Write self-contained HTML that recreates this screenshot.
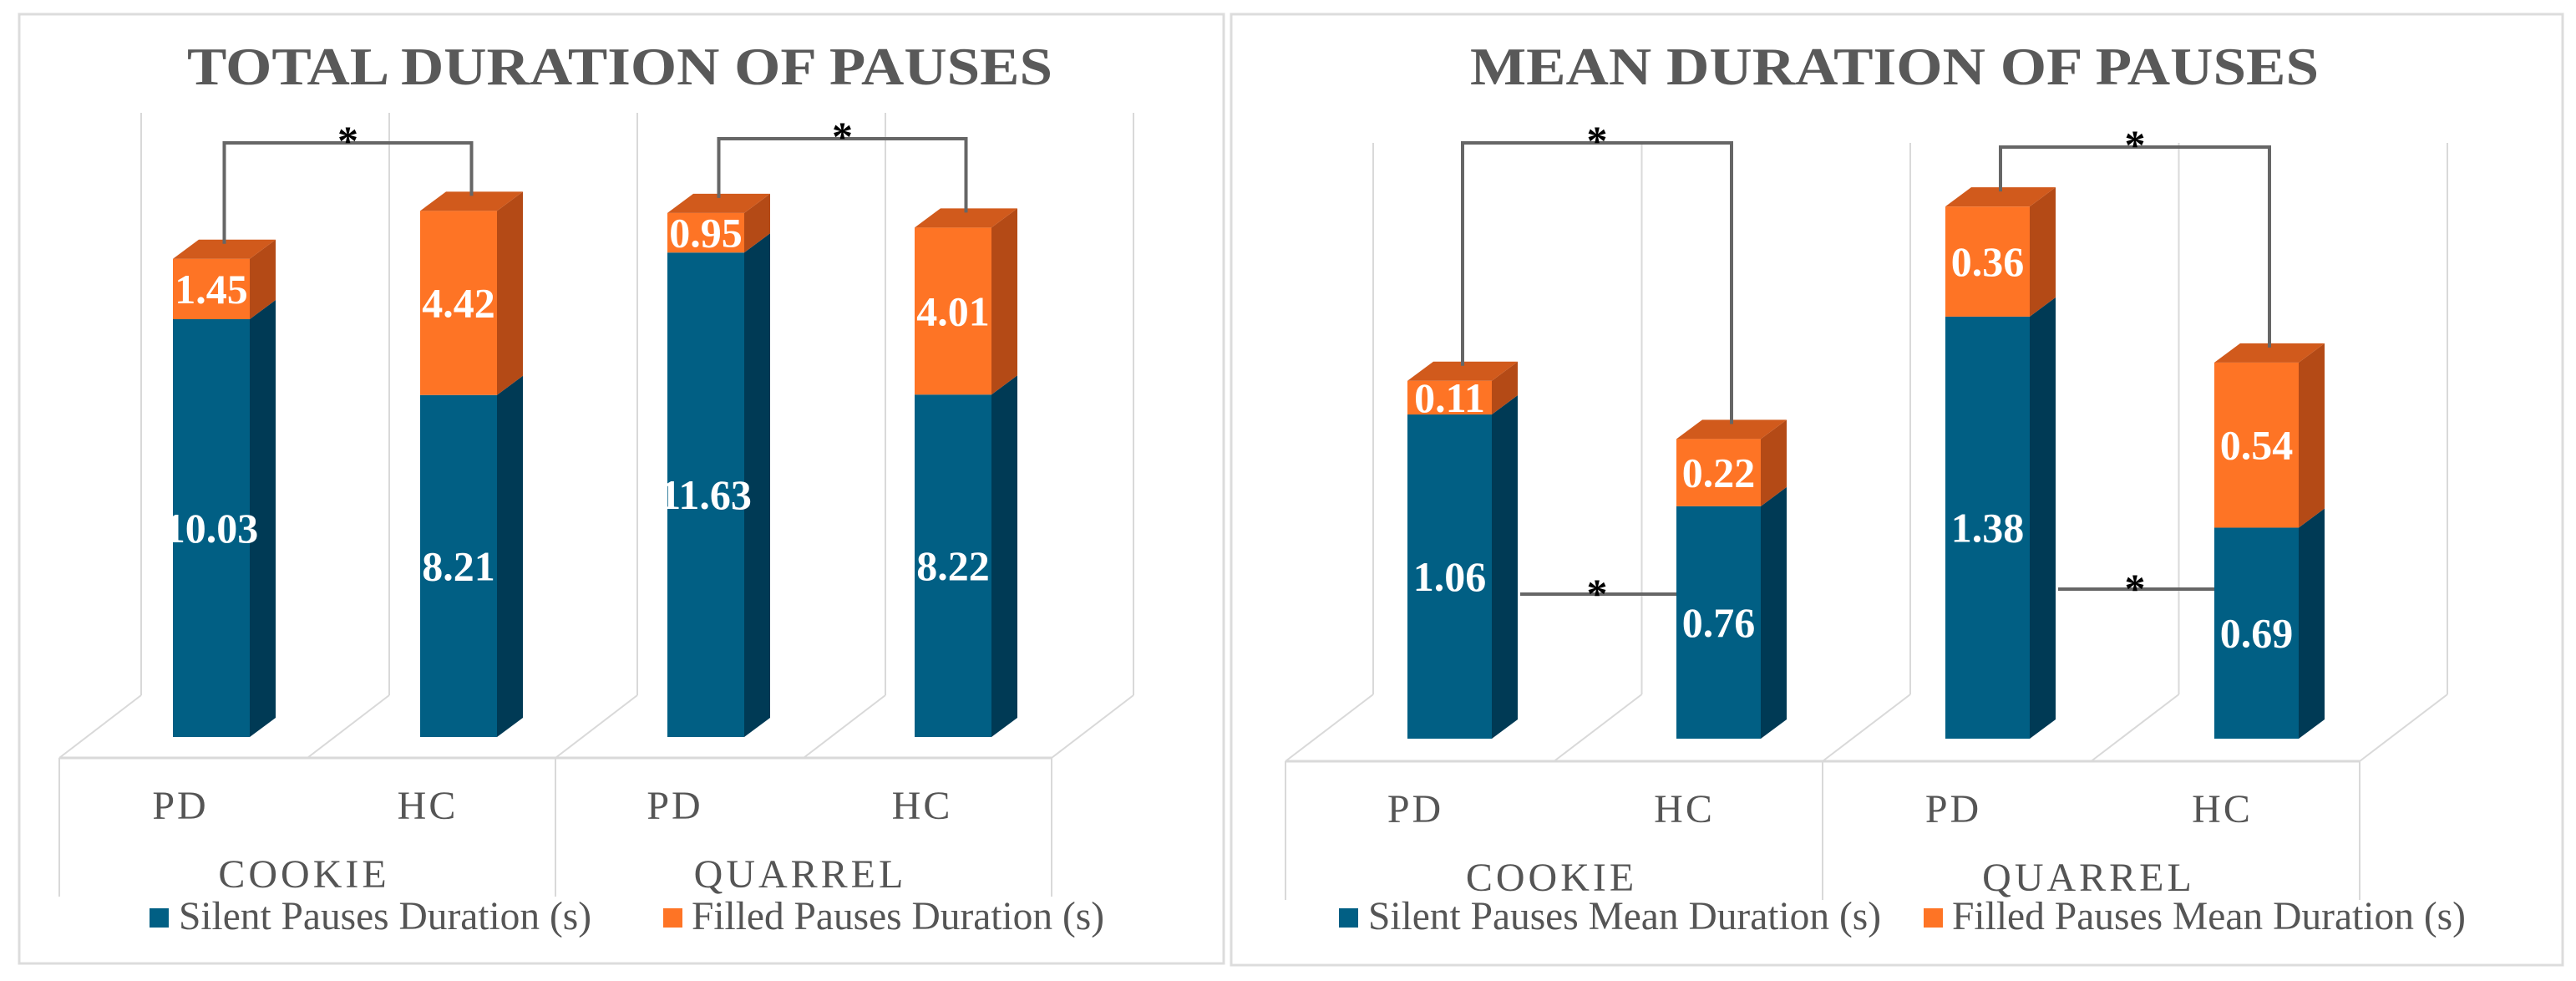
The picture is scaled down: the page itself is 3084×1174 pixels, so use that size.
<!DOCTYPE html>
<html><head><meta charset="utf-8"><style>
html,body{margin:0;padding:0;background:#fff;}
svg{display:block;}
svg text{font-family:"Liberation Serif","DejaVu Serif",serif !important;}
</style></head><body>
<svg id="svg" width="3084" height="1174" viewBox="0 0 3084 1174" xmlns="http://www.w3.org/2000/svg">
<rect x="0" y="0" width="3084" height="1174" fill="#fff"/>
<rect x="23" y="17" width="1442" height="1136" fill="none" stroke="#dcdcdc" stroke-width="3"/>
<rect x="1474" y="17" width="1594" height="1138" fill="none" stroke="#dcdcdc" stroke-width="3"/>
<text x="742" y="101" text-anchor="middle" style="font-family:'Liberation Serif',serif" font-size="64" font-weight="bold" fill="#595959" textLength="1036" lengthAdjust="spacingAndGlyphs">TOTAL DURATION OF PAUSES</text>
<text x="2268" y="101" text-anchor="middle" style="font-family:'Liberation Serif',serif" font-size="64" font-weight="bold" fill="#595959" textLength="1016" lengthAdjust="spacingAndGlyphs">MEAN DURATION OF PAUSES</text>
<g id="c1"></g>
<g id="c2"></g>
</svg>
<script>
const groups = ["PD","HC","PD","HC"];
const tasks = ["COOKIE","QUARREL"];
const totalSilent = [10.03, 8.21, 11.63, 8.22];
const totalFilled = [1.45, 4.42, 0.95, 4.01];
const meanSilent = [1.06, 0.76, 1.38, 0.69];
const meanFilled = [0.11, 0.22, 0.36, 0.54];

const NS = "http://www.w3.org/2000/svg";
function mk(parent, tag, attrs, txt){
  const e = document.createElementNS(NS, tag);
  for (const k in attrs) e.setAttribute(k, attrs[k]);
  if (tag === "text") e.setAttribute("style", "font-family:'Liberation Serif',serif");
  if (txt !== undefined) e.textContent = txt;
  parent.appendChild(e);
  return e;
}

function drawChart(g, cfg, silent, filled){
  const y = v => cfg.base - v * cfg.scale;
  const xb = i => cfg.x0 + i * cfg.step;
  for (let i = 0; i <= 4; i++){
    const bx = cfg.gx0 + i * cfg.gstep;
    const l = mk(g, "line", {x1:bx, y1:cfg.gTop, x2:bx, y2:cfg.gBot, stroke:"#d9d9d9", "stroke-width":2});
    
    
    const fx = bx - cfg.fdx;
    const d = mk(g, "line", {x1:bx, y1:cfg.gBot, x2:fx, y2:cfg.fy, stroke:"#d9d9d9", "stroke-width":2});
    
    
  }
  const fl = cfg.gx0 - cfg.fdx, fr = cfg.gx0 + 4*cfg.gstep - cfg.fdx;
  const fe = mk(g, "line", {x1:fl, y1:cfg.fy, x2:fr, y2:cfg.fy, stroke:"#d9d9d9", "stroke-width":3});
  
  
  [0, 2, 4].forEach(i => {
    const vx = cfg.gx0 + i*cfg.gstep - cfg.fdx;
    const v = mk(g, "line", {x1:vx, y1:cfg.fy, x2:vx, y2:cfg.fy+166, stroke:"#d9d9d9", "stroke-width":2});
    
    
  });
  const W = cfg.w, DX = 31, DY = 23;
  silent.forEach((s, i) => {
    const f = filled[i];
    const x = xb(i), ys = y(s), yt = y(s + f);
    const bg = mk(g, "g", {});
    
    
    mk(bg, "rect", {x:x, y:ys, width:W, height:cfg.base-ys, fill:"#015f84"});
    mk(bg, "polygon", {points:`${x+W},${ys} ${x+W+DX},${ys-DY} ${x+W+DX},${cfg.base-DY} ${x+W},${cfg.base}`, fill:"#003a55"});
    mk(bg, "rect", {x:x, y:yt, width:W, height:ys-yt, fill:"#fe7425"});
    mk(bg, "polygon", {points:`${x+W},${yt} ${x+W+DX},${yt-DY} ${x+W+DX},${ys-DY} ${x+W},${ys}`, fill:"#b44a16"});
    mk(bg, "polygon", {points:`${x},${yt} ${x+DX},${yt-DY} ${x+W+DX},${yt-DY} ${x+W},${yt}`, fill:"#d15a1c"});
    const t1 = mk(bg, "text", {x:x+W/2, y:(ys+cfg.base)/2+17, "text-anchor":"middle", "font-size":50, "font-weight":"bold", fill:"#fff"}, s.toFixed(2));
    
    
    const t2 = mk(bg, "text", {x:x+W/2, y:(yt+ys)/2+17, "text-anchor":"middle", "font-size":50, "font-weight":"bold", fill:"#fff"}, f.toFixed(2));
    
    
    const lb = mk(g, "text", {x:x+W/2+cfg.lblOff, y:cfg.fy+73, "text-anchor":"middle", "font-size":48, fill:"#555", "letter-spacing":3}, groups[i]);
    
    
  });
  tasks.forEach((t, j) => {
    const cx = fl + cfg.gstep*(2*j+1) - cfg.taskOff;
    const tl = mk(g, "text", {x:cx, y:cfg.fy+155, "text-anchor":"middle", "font-size":48, fill:"#555", "letter-spacing":4}, t);
    
    
  });
  for (let j = 0; j < 2; j++){
    const a = 2*j, b = 2*j+1;
    const xa = xb(a)+W/2+DX/2, xc = xb(b)+W/2+DX/2;
    const ya = y(silent[a]+filled[a]) - 18, yc = y(silent[b]+filled[b]) - 18;
    const top = cfg.brTop[j];
    const p = mk(g, "polyline", {points:`${xa},${ya} ${xa},${top} ${xc},${top} ${xc},${yc}`, fill:"none", stroke:"#666", "stroke-width":4});
    
    
    const st = mk(g, "text", {x:(xa+xc)/2, y:top+14, "text-anchor":"middle", "font-size":50, "font-weight":"bold", fill:"#000"}, "*");
    
    
    if (cfg.lower){
      const yl = cfg.lowerY[j];
      const l = mk(g, "line", {x1:xb(a)+W+DX+3, y1:yl, x2:xb(b), y2:yl, stroke:"#666", "stroke-width":4});
      
      
      const s2 = mk(g, "text", {x:(xb(a)+W+DX+xb(b))/2, y:yl+16, "text-anchor":"middle", "font-size":50, "font-weight":"bold", fill:"#000"}, "*");
      
      
    }
  }
  mk(g, "rect", {x:cfg.leg[0], y:1087, width:23, height:23, fill:"#015f84"});
  const l1 = mk(g, "text", {x:cfg.leg[0]+35, y:1112, "font-size":48, fill:"#555", textLength:cfg.leg[1], lengthAdjust:"spacingAndGlyphs"}, cfg.legT[0]);
  
  
  mk(g, "rect", {x:cfg.leg[2], y:1087, width:23, height:23, fill:"#fe7425"});
  const l2 = mk(g, "text", {x:cfg.leg[2]+34, y:1112, "font-size":48, fill:"#555", textLength:cfg.leg[3], lengthAdjust:"spacingAndGlyphs"}, cfg.legT[1]);
  
  
}

drawChart(document.getElementById("c1"), {
  x0:207, step:296, w:92, base:882, scale:49.85,
  gx0:169, gstep:297, gTop:135, gBot:832, fdx:98, fy:907, lblOff:-37, taskOff:4,
  brTop:[171,166], lower:false,
  leg:[179, 494, 794, 494], legT:["Silent Pauses Duration (s)","Filled Pauses Duration (s)"]
}, totalSilent, totalFilled);

drawChart(document.getElementById("c2"), {
  x0:1685, step:322, w:101, base:884, scale:366,
  gx0:1644, gstep:321.5, gTop:171, gBot:831, fdx:105, fy:911, lblOff:-41, taskOff:3,
  brTop:[171,176], lower:true, lowerY:[711,705],
  leg:[1603, 614, 2303, 615], legT:["Silent Pauses Mean Duration (s)","Filled Pauses Mean Duration (s)"]
}, meanSilent, meanFilled);
</script>
</body></html>
